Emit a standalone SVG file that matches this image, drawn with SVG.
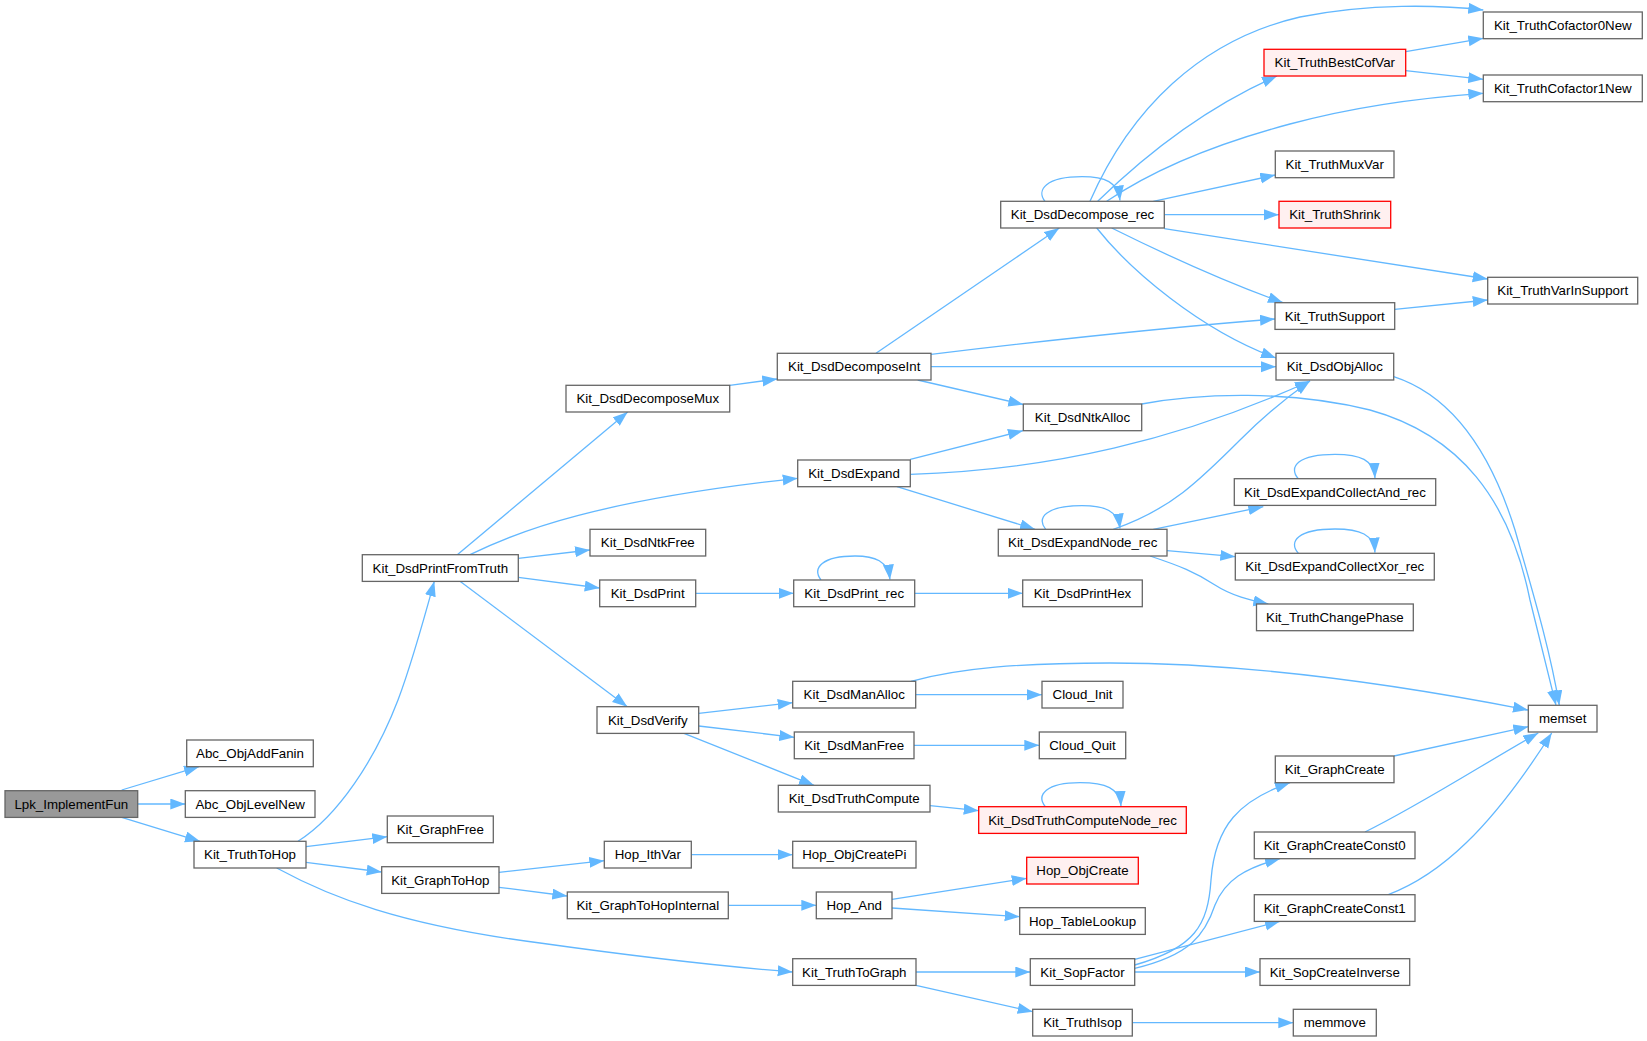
<svg xmlns="http://www.w3.org/2000/svg" width="1647" height="1041" viewBox="0 0 1647 1041">
<style>
rect{fill:#fff;stroke:#666;stroke-width:1.3}
.root rect{fill:#999}
.red rect{fill:#fff0f0;stroke:#f00}
text{font-family:"Liberation Sans",Arial,Helvetica,sans-serif;font-size:13.3px;text-anchor:middle;fill:#000}
.e path{fill:none;stroke:#63b8ff;stroke-width:1.3;marker-end:url(#a)}
</style>
<defs>
<marker id="a" markerUnits="userSpaceOnUse" markerWidth="16" markerHeight="12" refX="15" refY="5.5" orient="auto"><path d="M0,0 L15,5.5 L0,11 z" fill="#63b8ff"/></marker>
</defs>
<rect x="0" y="0" width="1647" height="1041" style="fill:#fff;stroke:none"/>
<g class="e" id="edges">
<path d="M121.7,790 L199,766.7"/>
<path d="M137.7,804 L185.3,804"/>
<path d="M121.7,817.3 L200,841.3"/>
<path d="M298,841.3 C338,816 375,760 398,700 C410,668 421,630 434.3,581.3"/>
<path d="M306,846.7 L387.3,836.7"/>
<path d="M306,862.3 L381.7,872"/>
<path d="M276.7,868 C330,897 400,925 540,943 C640,957 730,967 792.7,972"/>
<path d="M457.3,554.7 L627.7,412"/>
<path d="M470,554.7 C520,530 600,500 797.7,478.3"/>
<path d="M518.3,558.3 L590,550"/>
<path d="M518.3,577.3 L599.7,588"/>
<path d="M460,581.3 L627.3,706.7"/>
<path d="M499,872.3 L604.3,860.7"/>
<path d="M499,887.3 L567.3,896"/>
<path d="M729.7,385.3 L777.3,379"/>
<path d="M876,353.3 L1059.3,228"/>
<path d="M931,354.3 C1050,340 1160,328 1275,319"/>
<path d="M931,366.7 L1276,366.7"/>
<path d="M917.7,380 L1023.3,404.5"/>
<path d="M910.3,459.3 L1023,430.7"/>
<path d="M910.3,474.3 C1050,470 1180,440 1310,381"/>
<path d="M897,486.7 L1035,529.3"/>
<path d="M695.7,593.3 L793.7,593.3"/>
<path d="M821,580 C812,568 822,556 855,556 C875,556 888,561 890,579.5"/>
<path d="M914.7,593.3 L1022.7,593.3"/>
<path d="M698.7,713.3 L792.7,702.7"/>
<path d="M698.7,726 L794.3,737.3"/>
<path d="M684,733.3 L814,785.3"/>
<path d="M915.7,694.7 L1042,694.7"/>
<path d="M911,681.3 C960,668 1020,663 1110,663 C1250,663 1400,685 1528,710"/>
<path d="M914,745.3 L1039.3,745.3"/>
<path d="M930,805.7 L978.7,810.7"/>
<path d="M1045.3,806.7 C1036,795 1046,782.7 1080,782.7 C1105,782.7 1120,788 1121,806"/>
<path d="M691.3,854.7 L792.7,854.7"/>
<path d="M728.3,905.3 L816.3,905.3"/>
<path d="M892,899.3 L1026.7,878.3"/>
<path d="M892,908 L1019.7,916.7"/>
<path d="M916,972 L1030.3,972"/>
<path d="M916,985.3 L1032.7,1011.7"/>
<path d="M1134.7,965 C1195,948 1208,925 1211,880 C1215,825 1240,800 1290,782.7"/>
<path d="M1134.7,968.3 C1190,955 1205,935 1215,905 C1225,880 1245,868 1280,858.7"/>
<path d="M1134.7,959.3 L1280,921.3"/>
<path d="M1134.7,972 L1260,972"/>
<path d="M1132.3,1022.7 L1293.3,1022.7"/>
<path d="M1394,756 L1528.3,726.7"/>
<path d="M1365,832 C1420,805 1490,760 1538.3,733"/>
<path d="M1388.3,894.7 C1440,875 1490,830 1551.7,733"/>
<path d="M1045,201.3 C1036,190 1046,176.7 1082,176.7 C1105,176.7 1118,182 1120,200.5"/>
<path d="M1090,201.3 C1130,110 1200,40 1300,17 C1370,3 1440,5 1483.3,10"/>
<path d="M1097.7,201.3 C1140,160 1200,110 1277,76"/>
<path d="M1106.7,201.3 C1160,165 1230,140 1290,124 C1360,105 1430,97 1483.3,93.3"/>
<path d="M1153.3,201.3 L1275.3,175"/>
<path d="M1164.3,214.7 L1279,214.7"/>
<path d="M1164.3,228.7 L1487.7,279"/>
<path d="M1111.7,228 C1160,252 1220,280 1283,302.7"/>
<path d="M1096.7,228 C1130,270 1200,330 1276,358"/>
<path d="M1405.7,51.7 L1483.3,38.3"/>
<path d="M1405.7,70.7 L1483.3,79.3"/>
<path d="M1394.7,309.3 L1487.7,300"/>
<path d="M1393.7,376.7 C1450,395 1490,450 1515,530 C1535,600 1550,650 1559.3,705.3"/>
<path d="M1141.7,404 C1200,393 1290,390 1370,410 C1460,435 1510,500 1530,600 C1540,640 1550,680 1556,705.3"/>
<path d="M1045.7,529.3 C1036,518 1046,505.7 1082,505.7 C1105,505.7 1118,511 1120,528.5"/>
<path d="M1113.3,529.3 C1170,510 1200,480 1240,440 C1265,415 1290,395 1310,381"/>
<path d="M1153.3,529.3 L1263.3,506.7"/>
<path d="M1167,550.7 L1235.3,556.7"/>
<path d="M1150,556 C1180,566 1195,572 1215,585 C1232,596 1250,600 1268.3,604"/>
<path d="M1298.3,478.7 C1288,467 1298,454.3 1335,454.3 C1360,454.3 1374,460 1375,478"/>
<path d="M1298.3,553.3 C1288,541.6 1298,529 1335,529 C1360,529 1374,534.6 1375,552.6"/>
</g>
<g id="Lpk_ImplementFun" class="root"><rect x="5" y="790.7" width="132.7" height="26.7"/><text x="71.3" y="808.7">Lpk_ImplementFun</text></g>
<g id="Abc_ObjAddFanin"><rect x="186.7" y="740" width="126.6" height="26.7"/><text x="250" y="758">Abc_ObjAddFanin</text></g>
<g id="Abc_ObjLevelNew"><rect x="185.3" y="790.7" width="129.7" height="26.7"/><text x="250.2" y="808.7">Abc_ObjLevelNew</text></g>
<g id="Kit_TruthToHop"><rect x="194" y="841.3" width="112" height="26.7"/><text x="250" y="859.4">Kit_TruthToHop</text></g>
<g id="Kit_DsdPrintFromTruth"><rect x="362.3" y="554.7" width="156" height="26.7"/><text x="440.3" y="572.7">Kit_DsdPrintFromTruth</text></g>
<g id="Kit_GraphFree"><rect x="387.3" y="816" width="106" height="26.7"/><text x="440.3" y="834">Kit_GraphFree</text></g>
<g id="Kit_GraphToHop"><rect x="381.7" y="866.7" width="117.3" height="26.7"/><text x="440.3" y="884.7">Kit_GraphToHop</text></g>
<g id="Kit_DsdDecomposeMux"><rect x="566" y="385.3" width="163.7" height="26.7"/><text x="647.8" y="403.4">Kit_DsdDecomposeMux</text></g>
<g id="Kit_DsdNtkFree"><rect x="590" y="529.3" width="115.7" height="26.7"/><text x="647.8" y="547.4">Kit_DsdNtkFree</text></g>
<g id="Kit_DsdPrint"><rect x="599.7" y="580" width="96" height="26.7"/><text x="647.7" y="598">Kit_DsdPrint</text></g>
<g id="Kit_DsdVerify"><rect x="597" y="706.7" width="101.7" height="26.7"/><text x="647.8" y="724.7">Kit_DsdVerify</text></g>
<g id="Hop_IthVar"><rect x="604.3" y="841.3" width="87" height="26.7"/><text x="647.8" y="859.4">Hop_IthVar</text></g>
<g id="Kit_GraphToHopInternal"><rect x="567.3" y="892" width="161" height="26.7"/><text x="647.8" y="910">Kit_GraphToHopInternal</text></g>
<g id="Kit_DsdDecomposeInt"><rect x="777.3" y="353.3" width="153.7" height="26.7"/><text x="854.2" y="371.4">Kit_DsdDecomposeInt</text></g>
<g id="Kit_DsdExpand"><rect x="797.7" y="460" width="112.6" height="26.7"/><text x="854" y="478">Kit_DsdExpand</text></g>
<g id="Kit_DsdPrint_rec"><rect x="793.7" y="580" width="121" height="26.7"/><text x="854.2" y="598">Kit_DsdPrint_rec</text></g>
<g id="Kit_DsdManAlloc"><rect x="792.7" y="681.3" width="123" height="26.7"/><text x="854.2" y="699.4">Kit_DsdManAlloc</text></g>
<g id="Kit_DsdManFree"><rect x="794.3" y="732" width="119.7" height="26.7"/><text x="854.2" y="750">Kit_DsdManFree</text></g>
<g id="Kit_DsdTruthCompute"><rect x="778.3" y="785.3" width="151.7" height="26.7"/><text x="854.2" y="803.4">Kit_DsdTruthCompute</text></g>
<g id="Hop_ObjCreatePi"><rect x="792.7" y="841.3" width="123.3" height="26.7"/><text x="854.3" y="859.4">Hop_ObjCreatePi</text></g>
<g id="Hop_And"><rect x="816.3" y="892" width="75.7" height="26.7"/><text x="854.2" y="910">Hop_And</text></g>
<g id="Kit_TruthToGraph"><rect x="792.7" y="958.7" width="123.3" height="26.7"/><text x="854.3" y="976.7">Kit_TruthToGraph</text></g>
<g id="Kit_DsdDecompose_rec"><rect x="1000.7" y="201.3" width="163.6" height="26.7"/><text x="1082.5" y="219.4">Kit_DsdDecompose_rec</text></g>
<g id="Kit_DsdNtkAlloc"><rect x="1023.3" y="404" width="118.4" height="26.7"/><text x="1082.5" y="422">Kit_DsdNtkAlloc</text></g>
<g id="Kit_DsdExpandNode_rec"><rect x="998.3" y="529.3" width="168.7" height="26.7"/><text x="1082.7" y="547.4">Kit_DsdExpandNode_rec</text></g>
<g id="Kit_DsdPrintHex"><rect x="1022.7" y="580" width="119.6" height="26.7"/><text x="1082.5" y="598">Kit_DsdPrintHex</text></g>
<g id="Cloud_Init"><rect x="1042" y="681.3" width="81" height="26.7"/><text x="1082.5" y="699.4">Cloud_Init</text></g>
<g id="Cloud_Quit"><rect x="1039.3" y="732" width="86.4" height="26.7"/><text x="1082.5" y="750">Cloud_Quit</text></g>
<g id="Kit_DsdTruthComputeNode_rec" class="red"><rect x="978.7" y="806.7" width="207.6" height="26.7"/><text x="1082.5" y="824.7">Kit_DsdTruthComputeNode_rec</text></g>
<g id="Hop_ObjCreate" class="red"><rect x="1026.7" y="857.3" width="111.6" height="26.7"/><text x="1082.5" y="875.4">Hop_ObjCreate</text></g>
<g id="Hop_TableLookup"><rect x="1019.7" y="907.7" width="125.6" height="26.7"/><text x="1082.5" y="925.7">Hop_TableLookup</text></g>
<g id="Kit_SopFactor"><rect x="1030.3" y="958.7" width="104.4" height="26.7"/><text x="1082.5" y="976.7">Kit_SopFactor</text></g>
<g id="Kit_TruthIsop"><rect x="1032.7" y="1009.3" width="99.6" height="26.7"/><text x="1082.5" y="1027.4">Kit_TruthIsop</text></g>
<g id="Kit_TruthCofactor0New"><rect x="1483.3" y="12" width="159" height="26.7"/><text x="1562.8" y="30">Kit_TruthCofactor0New</text></g>
<g id="Kit_TruthBestCofVar" class="red"><rect x="1264" y="49.3" width="141.7" height="26.7"/><text x="1334.8" y="67.4">Kit_TruthBestCofVar</text></g>
<g id="Kit_TruthCofactor1New"><rect x="1483.3" y="75" width="159" height="26.7"/><text x="1562.8" y="93">Kit_TruthCofactor1New</text></g>
<g id="Kit_TruthMuxVar"><rect x="1275.3" y="151" width="118.7" height="26.7"/><text x="1334.7" y="169">Kit_TruthMuxVar</text></g>
<g id="Kit_TruthShrink" class="red"><rect x="1279" y="201.3" width="111.7" height="26.7"/><text x="1334.8" y="219.4">Kit_TruthShrink</text></g>
<g id="Kit_TruthVarInSupport"><rect x="1487.7" y="277.3" width="150" height="26.7"/><text x="1562.7" y="295.4">Kit_TruthVarInSupport</text></g>
<g id="Kit_TruthSupport"><rect x="1275" y="302.7" width="119.7" height="26.7"/><text x="1334.8" y="320.7">Kit_TruthSupport</text></g>
<g id="Kit_DsdObjAlloc"><rect x="1276" y="353.3" width="117.7" height="26.7"/><text x="1334.8" y="371.4">Kit_DsdObjAlloc</text></g>
<g id="Kit_DsdExpandCollectAnd_rec"><rect x="1234.3" y="478.7" width="201.4" height="26.7"/><text x="1335" y="496.7">Kit_DsdExpandCollectAnd_rec</text></g>
<g id="Kit_DsdExpandCollectXor_rec"><rect x="1235.3" y="553.3" width="199" height="26.7"/><text x="1334.8" y="571.4">Kit_DsdExpandCollectXor_rec</text></g>
<g id="Kit_TruthChangePhase"><rect x="1256.5" y="604" width="156.8" height="26.7"/><text x="1334.9" y="622">Kit_TruthChangePhase</text></g>
<g id="memset"><rect x="1528.3" y="705.3" width="68.7" height="26.7"/><text x="1562.7" y="723.4">memset</text></g>
<g id="Kit_GraphCreate"><rect x="1275.3" y="756" width="118.7" height="26.7"/><text x="1334.7" y="774">Kit_GraphCreate</text></g>
<g id="Kit_GraphCreateConst0"><rect x="1254.3" y="832" width="160.7" height="26.7"/><text x="1334.7" y="850">Kit_GraphCreateConst0</text></g>
<g id="Kit_GraphCreateConst1"><rect x="1254.3" y="894.7" width="160.7" height="26.7"/><text x="1334.7" y="912.7">Kit_GraphCreateConst1</text></g>
<g id="Kit_SopCreateInverse"><rect x="1260" y="958.7" width="149.7" height="26.7"/><text x="1334.8" y="976.7">Kit_SopCreateInverse</text></g>
<g id="memmove"><rect x="1293.3" y="1009.3" width="83" height="26.7"/><text x="1334.8" y="1027.4">memmove</text></g>
</svg>
